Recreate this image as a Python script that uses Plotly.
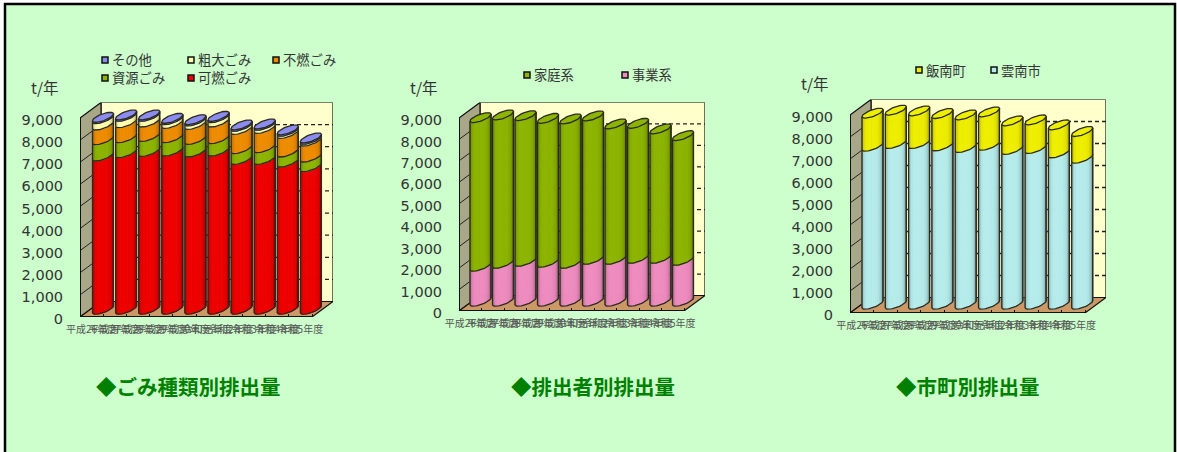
import math
import plotly.graph_objects as go

YEARS = ["平成26年度","平成27年度","平成28年度","平成29年度","平成30年度","令和元年度","令和2年度","令和3年度","令和4年度","令和5年度"]
TICKS = [0,1000,2000,3000,4000,5000,6000,7000,8000,9000]
TICK_TEXT = ["0","1,000","2,000","3,000","4,000","5,000","6,000","7,000","8,000","9,000"]

# chart 1: waste type
burnable = [6924,7075,7135,7150,7105,7150,6773,6773,6652,6441]
recycle  = [739,678,678,603,573,558,483,528,453,437]
nonburn  = [663,679,649,649,678,754,874,874,844,724]
bulky    = [292,291,261,171,156,201,141,141,96,81]
other    = [60,60,60,60,60,60,60,60,60,60]
# chart 2: source
business = [1628,1767,1860,1814,1767,1953,1953,2000,2000,1907]
household= [6930,6915,6790,6713,6729,6683,6311,6295,6031,5815]
# chart 3: municipality
unnan    = [7182,7303,7303,7197,7121,7227,7031,7076,6879,6637]
iinan    = [1500,1515,1485,1470,1485,1515,1303,1303,1273,1212]

C = dict(red="#EE0000", green="#8CB400", orange="#EE8C00", beige="#FFFFAA", purple="#8C8CF0",
         pink="#EE8CC0", yellow="#EEEE00", cyan="#B6ECEC")

CHARTS = [
    dict(series=[(burnable,"可燃ごみ",C["red"]),(recycle,"資源ごみ",C["green"]),(nonburn,"不燃ごみ",C["orange"]),
                 (bulky,"粗大ごみ",C["beige"]),(other,"その他",C["purple"])],
         x0=80,xf=312,xb=333,y0=317,y9=118,dy=15.5,first=103,step=23.1,base=4,
         title="◆ごみ種類別排出量",tx=188,ty=386,unit=(45,87),
         legend=[(102,60,"その他",C["purple"]),(188,60,"粗大ごみ",C["beige"]),(273,60,"不燃ごみ",C["orange"]),
                 (102,78,"資源ごみ",C["green"]),(188,78,"可燃ごみ",C["red"])]),
    dict(series=[(business,"事業系",C["pink"]),(household,"家庭系",C["green"])],
         x0=459,xf=684,xb=705,y0=311,y9=118,dy=15.5,first=480.5,step=22.5,base=6,
         title="◆排出者別排出量",tx=593,ty=386,unit=(424,87),
         legend=[(524,75,"家庭系",C["green"]),(622,75,"事業系",C["pink"])]),
    dict(series=[(unnan,"雲南市",C["cyan"]),(iinan,"飯南町",C["yellow"])],
         x0=850,xf=1085,xb=1106,y0=313,y9=115,dy=15.5,first=872.5,step=23.3,base=5,
         title="◆市町別排出量",tx=968,ty=386,unit=(815,83),
         legend=[(916,70,"飯南町",C["yellow"]),(991,70,"雲南市",C["cyan"])]),
]
W, H = 1177, 452
N_STRIP = 14
JP = "Noto Sans CJK JP"
EDGE = "#2a2a20"

def shade(col, f):
    r,g,b = int(col[1:3],16),int(col[3:5],16),int(col[5:7],16)
    return "rgb(%d,%d,%d)"%(r*f,g*f,b*f)

def profile(u):
    # lighting across a cylinder, u in 0..1 from left to right
    if u < 0.5: return 0.6 + 0.4*math.sin(min(u/0.3,1)*math.pi/2)
    return 1.0 - 0.6*((u-0.5)/0.5)**3

fig = go.Figure()
shapes, annos = [], []
layout_axes = {}
for k, ch in enumerate(CHARTS):
    s = "" if k == 0 else str(k+1)
    xid, yid = "x"+s, "y"+s
    n = len(YEARS)
    ppx = (ch["xf"]-ch["x0"])/n           # px per category
    ppy = (ch["y0"]-ch["y9"])/9000        # px per unit
    depth_x = (ch["xb"]-ch["xf"])/ppx
    depth_y = ch["dy"]/ppy
    top = ch["y9"]-ch["dy"]
    xmin, xmax = -0.5, n-0.5+depth_x
    ymax = 9000+depth_y
    layout_axes["xaxis"+s] = dict(domain=[ch["x0"]/W, ch["xb"]/W], range=[xmin,xmax], anchor=yid, automargin=False,
        tickmode="array", tickvals=list(range(n)), ticktext=YEARS, tickangle=0, ticklen=3, ticks="outside",
        tickcolor="rgba(0,0,0,0)", tickfont=dict(family=JP,size=10,color="#555"), showgrid=False, zeroline=False, showline=False, fixedrange=True,
        minor=dict(tickmode="array", tickvals=[i-0.5 for i in range(n+1)], ticks="inside", ticklen=3, tickcolor="#111", showgrid=False))
    layout_axes["yaxis"+s] = dict(domain=[1-ch["y0"]/H, 1-top/H], range=[0,ymax], anchor=xid, automargin=False,
        tickmode="array", tickvals=TICKS, ticktext=TICK_TEXT, ticklen=13, ticks="outside", tickcolor="rgba(0,0,0,0)", ticklabelshift=2,
        tickfont=dict(family="DejaVu Sans",size=14.5,color="#333"), showgrid=False, zeroline=False, showline=False, fixedrange=True)

    def poly(xs, ys, fill, line="#111", lw=1.2, dash=None, mode="lines"):
        fig.add_trace(go.Scatter(x=xs,y=ys,xaxis=xid,yaxis=yid,mode=mode,fill="toself" if fill else None,
            fillcolor=fill,line=dict(color=line,width=lw,dash=dash),hoverinfo="skip",showlegend=False))
    # walls
    poly([xmin+depth_x,xmax,xmax,xmin+depth_x,xmin+depth_x],[depth_y,depth_y,ymax,ymax,depth_y],"#FFFFCC")
    poly([xmin,xmin+depth_x,xmin+depth_x,xmin,xmin],[0,depth_y,ymax,9000,0],"#A8A888")
    poly([xmin,xmax-depth_x,xmax,xmin+depth_x,xmin],[0,0,depth_y,depth_y,0],"#CC9966")
    # gridlines
    for t in TICKS[1:-1]:
        poly([xmin+depth_x,xmax],[t+depth_y,t+depth_y],None,"#222",1.3,"4px,3px")
        poly([xmin,xmin+depth_x],[t,t+depth_y],None,"#222",1)
    poly([xmin,xmax-depth_x],[0,0],None,"#111",2)
    poly([xmin,xmin],[0,9000],None,"#111",2)

    # ellipse vectors (pixels converted to data units)
    ax, ay = 10.5/ppx, 3.8/ppy     # towards the right end, rising to the right
    bx, by = 1.0/ppx, 3.2/ppy      # towards the front, downward
    off = (ch["first"]-(ch["x0"]+ppx/2))/ppx
    step = ch["step"]/ppx
    base0 = ch["base"]/ppy
    cxs = [off+i*step for i in range(n)]
    def pt(cx, v, t):
        # t: pi (left) ... 2pi (right) along the front
        return cx+math.cos(t)*ax-math.sin(t)*bx, v+base0+ay+math.cos(t)*ay+math.sin(t)*by

    stack = [0]*n
    for vals,name,col in ch["series"]:
        lo = stack[:]
        hi = [a+b for a,b in zip(stack,vals)]
        for j in range(N_STRIP):
            t0 = math.pi + math.pi*j/N_STRIP
            t1 = math.pi + math.pi*(j+1)/N_STRIP
            u = j/(N_STRIP-1)
            xs, ys = [], []
            for i in range(n):
                a,b = pt(cxs[i],lo[i],t0), pt(cxs[i],lo[i],t1)
                c,d = pt(cxs[i],hi[i],t1), pt(cxs[i],hi[i],t0)
                xs += [a[0],b[0],c[0],d[0],a[0],None]
                ys += [a[1],b[1],c[1],d[1],a[1],None]
            poly(xs,ys,shade(col,profile(u)),shade(col,profile(u)),0.9)
        xs, ys = [], []
        for i in range(n):
            for m in range(25):
                p = pt(cxs[i],lo[i],math.pi+math.pi*m/24); xs.append(p[0]); ys.append(p[1])
            p = pt(cxs[i],hi[i],2*math.pi); xs.append(p[0]); ys.append(p[1]); xs.append(None); ys.append(None)
            p = pt(cxs[i],lo[i],math.pi); xs.append(p[0]); ys.append(p[1])
            p = pt(cxs[i],hi[i],math.pi); xs.append(p[0]); ys.append(p[1]); xs.append(None); ys.append(None)
        poly(xs,ys,None,EDGE,1.3)
        stack = hi
    # lids
    col = ch["series"][-1][2]
    xs, ys = [], []
    for i in range(n):
        for m in range(41):
            p = pt(cxs[i],stack[i],2*math.pi*m/40); xs.append(p[0]); ys.append(p[1])
        xs.append(None); ys.append(None)
    poly(xs,ys,col,EDGE,1.3)

    # legend
    for lx,ly,txt,c in ch["legend"]:
        shapes.append(dict(type="rect",xref="paper",yref="paper",x0=lx/W,x1=(lx+6)/W,y0=1-(ly+3)/H,y1=1-(ly-3)/H,
            fillcolor=c,line=dict(color="#111",width=1.5)))
        annos.append(dict(x=(lx+8)/W,y=1-ly/H,xref="paper",yref="paper",text=txt,showarrow=False,xanchor="left",yanchor="middle",
            font=dict(family=JP,size=13.3,color="#333")))
    annos.append(dict(x=ch["unit"][0]/W,y=1-ch["unit"][1]/H,xref="paper",yref="paper",text="t/年",showarrow=False,xanchor="center",yanchor="middle",
        font=dict(family=JP,size=15.5,color="#333")))
    annos.append(dict(x=ch["tx"]/W,y=1-ch["ty"]/H,xref="paper",yref="paper",text="<b>%s</b>"%ch["title"],showarrow=False,xanchor="center",yanchor="middle",
        font=dict(family=JP,size=20.5,color="#008000")))

shapes.insert(0,dict(type="rect",xref="paper",yref="paper",layer="below",x0=5/W,x1=1175/W,y0=-0.1,y1=1-4/H,
    fillcolor="#CCFFCC",line=dict(color="#000",width=2.5)))
fig.update_layout(width=W,height=H,margin=dict(l=0,r=0,t=0,b=0),paper_bgcolor="#FFFFFF",plot_bgcolor="rgba(0,0,0,0)",
    showlegend=False,shapes=shapes,annotations=annos,**layout_axes)
fig.write_html("out.html",post_script="document.body.style.margin='0';document.body.style.overflow='hidden';",config=dict(displayModeBar=False))
